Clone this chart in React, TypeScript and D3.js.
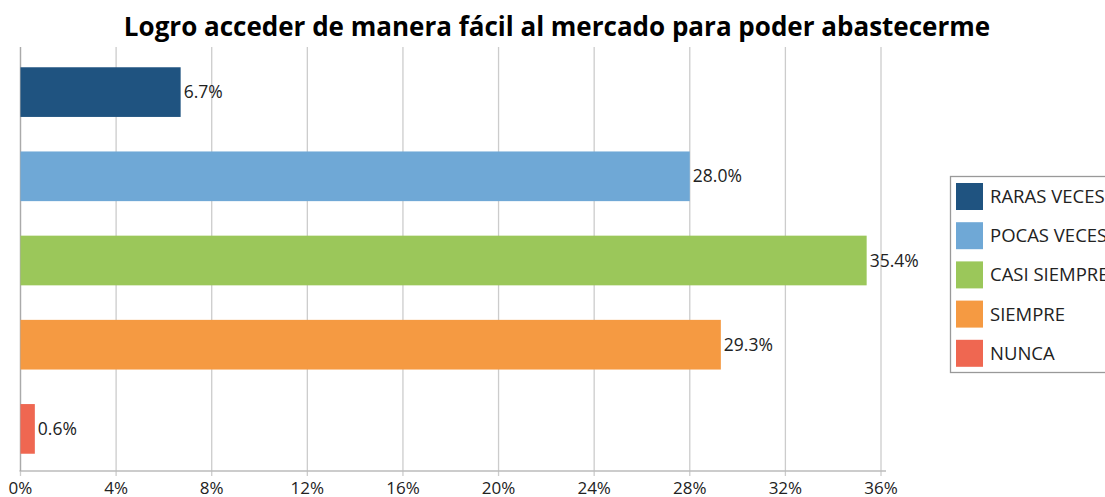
import React from 'react';
import * as d3 from 'd3';

const categories = ['RARAS VECES', 'POCAS VECES', 'CASI SIEMPRE', 'SIEMPRE', 'NUNCA'];
const values = [6.7, 28.0, 35.4, 29.3, 0.6];
const colors = ['#1f5380', '#6fa8d6', '#9bc75a', '#f59a42', '#ef6751'];
const ticks = [0, 4, 8, 12, 16, 20, 24, 28, 32, 36];

const W = 1105;
const H = 497;
const left = 20.5;
const right = 881;
const top = 50;
const bottom = 471;
const font = "'Open Sans', 'Noto Sans', sans-serif";

const App = () => {
  const x = d3.scaleLinear().domain([0, 36]).range([left, right]);
  const y = d3.scaleBand().domain(categories).range([top, bottom]).paddingInner(0.41).paddingOuter(0.205);

  return (
    <svg width={W} height={H} style={{ position: 'absolute', left: 0, top: 0 }}>
      <rect width={W} height={H} fill="#fff" />
      <text x={557} y={36} textAnchor="middle" fontFamily={font} fontWeight="bold" fontSize={26} fill="#000">
        Logro acceder de manera fácil al mercado para poder abastecerme
      </text>
      {ticks.map((t) => (
        <g key={t}>
          <line x1={x(t)} x2={x(t)} y1={47} y2={476} stroke="#cccccc" strokeWidth={1.3} />
          <text x={x(t)} y={494} textAnchor="middle" fontFamily={font} fontSize={17} fill="#222">
            {t}%
          </text>
        </g>
      ))}
      <line x1={left - 1} x2={right + 5} y1={bottom} y2={bottom} stroke="#bbbbbb" strokeWidth={1.3} />
      <line x1={left} x2={left} y1={47} y2={bottom} stroke="#aaaaaa" strokeWidth={1.3} />
      {categories.map((c, i) => (
        <g key={c}>
          <rect x={x(0)} y={y(c)} width={x(values[i]) - x(0)} height={y.bandwidth()} fill={colors[i]} />
          <text x={x(values[i]) + 3} y={(y(c) as number) + y.bandwidth() / 2 + 6} fontFamily={font} fontSize={17.5} fill="#222">
            {values[i].toFixed(1)}%
          </text>
        </g>
      ))}
      <rect x={950.5} y={176.5} width={170} height={196} fill="#fff" stroke="#999" strokeWidth={1.3} />
      {categories.map((c, i) => (
        <g key={c} transform={`translate(956,${183 + i * 39.2})`}>
          <rect width={27} height={27} fill={colors[i]} />
          <text x={34} y={20} fontFamily={font} fontSize={18.5} fill="#222">
            {c}
          </text>
        </g>
      ))}
    </svg>
  );
};

export default App;
